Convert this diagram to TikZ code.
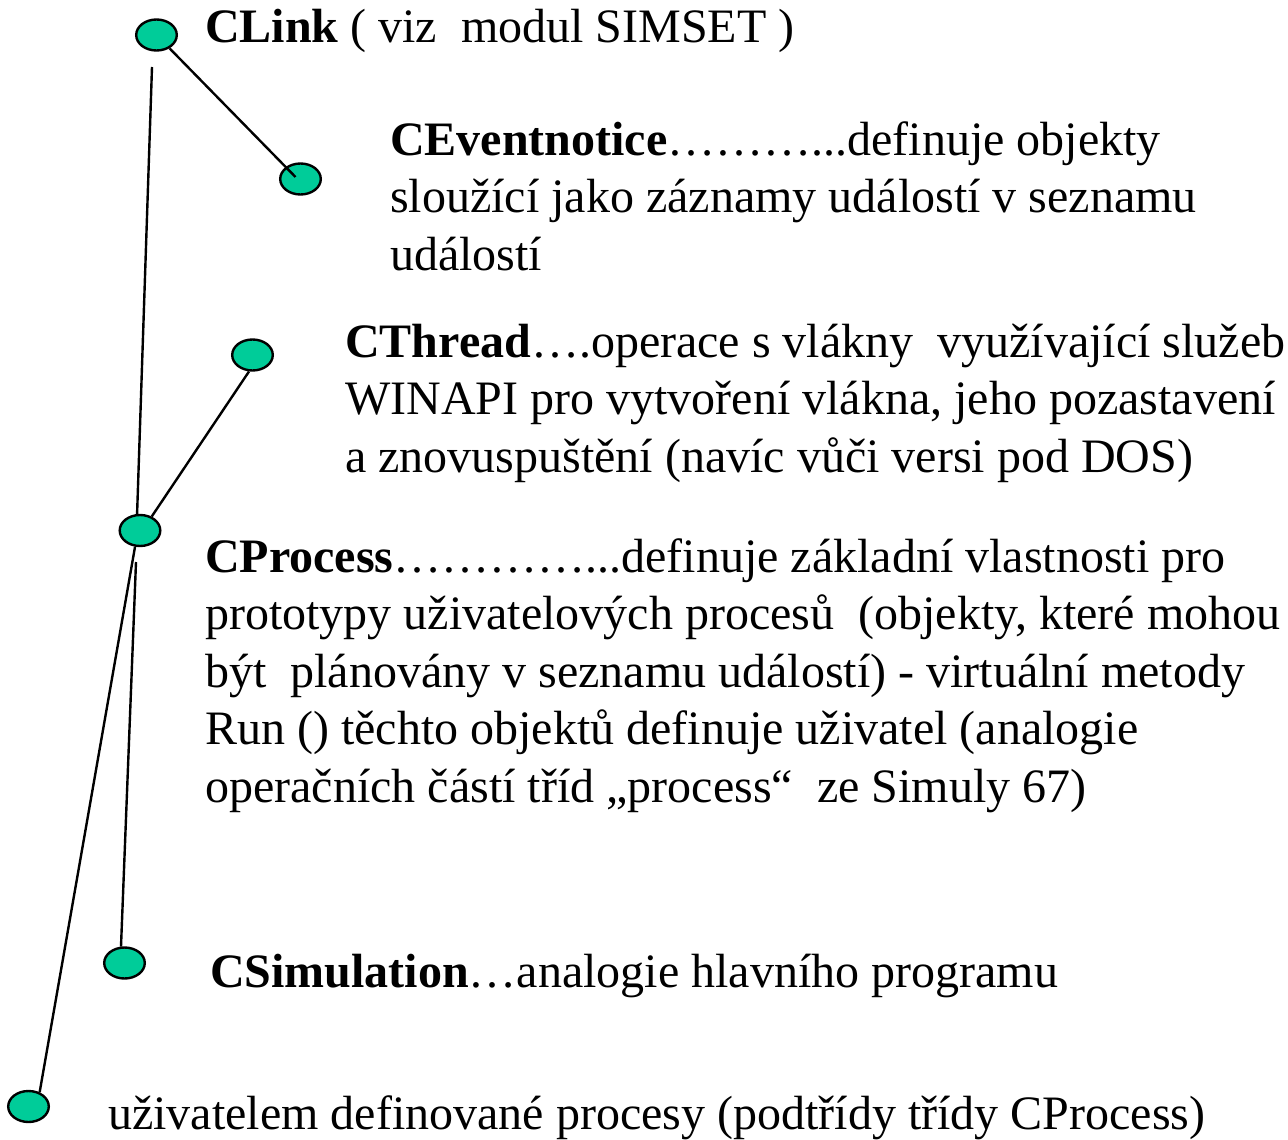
\documentclass[tikz,border=0pt]{standalone}
\usepackage{fontspec}
\setmainfont{Liberation Serif}
\usetikzlibrary{shapes.geometric}
\definecolor{dotfill}{HTML}{00CC99}
\begin{document}
\begin{tikzpicture}[x=1pt,y=-1pt,
  dot/.style={ellipse, draw=black, line width=2.4pt, fill=dotfill,
    minimum width=40.6pt, minimum height=31pt, inner sep=0pt},
  link/.style={line width=2.4pt, draw=black},
  txt/.style={anchor=base west, inner sep=0pt,
    font=\fontsize{48}{57.5}\selectfont}]
\useasboundingbox (0,0) rectangle (1288,1140);

% class markers
\node[dot] (e1) at (156.5,35) {};
\node[dot] (e2) at (300.5,179) {};
\node[dot] (e3) at (252.5,355) {};
\node[dot] (e4) at (140,530.5) {};
\node[dot] (e5) at (124.5,963) {};
\node[dot] (e6) at (28.5,1106.5) {};

% free ends of the connectors
\coordinate (e2tip) at (295.5,177);
\coordinate (l2top) at (152,67);
\coordinate (l4top) at (136,562);

% inheritance connectors
\draw[link] (e1) -- (e2tip);
\draw[link] (l2top) -- (e4.100);
\draw[link] (e3.258) -- (e4.50);
\draw[link] (l4top) -- (e5.102);
\draw[link] (e4.253) -- (e6.52);

% descriptions
\node[txt] (t1) at (205,43) {\textbf{CLink} ( viz\ \ modul SIMSET )};

\node[txt] (t2a) at (390,155) {\textbf{CEventnotice}………...definuje objekty};
\node[txt] (t2b) at (390,212.5) {sloužící jako záznamy událostí v seznamu};
\node[txt] (t2c) at (390,270) {událostí};

\node[txt] (t3a) at (345,357) {\textbf{CThread}….operace s vlákny\ \ využívající služeb};
\node[txt] (t3b) at (345,414.5) {WINAPI pro vytvoření vlákna, jeho pozastavení};
\node[txt] (t3c) at (345,472) {a znovuspuštění (navíc vůči versi pod DOS)};

\node[txt] (t4a) at (205,572) {\textbf{CProcess}…………...definuje základní vlastnosti pro};
\node[txt] (t4b) at (205,629.5) {prototypy uživatelových procesů\ \ (objekty, které mohou};
\node[txt] (t4c) at (205,687) {být\ \ plánovány v seznamu událostí) - virtuální metody};
\node[txt] (t4d) at (205,744.5) {Run () těchto objektů definuje uživatel (analogie};
\node[txt] (t4e) at (205,802) {operačních částí tříd „process“\ \ ze Simuly 67)};

\node[txt] (t5) at (210,987) {\textbf{CSimulation}…analogie hlavního programu};

\node[txt] (t6) at (108,1129) {uživatelem definované procesy (podtřídy třídy CProcess)};
\end{tikzpicture}
\end{document}
